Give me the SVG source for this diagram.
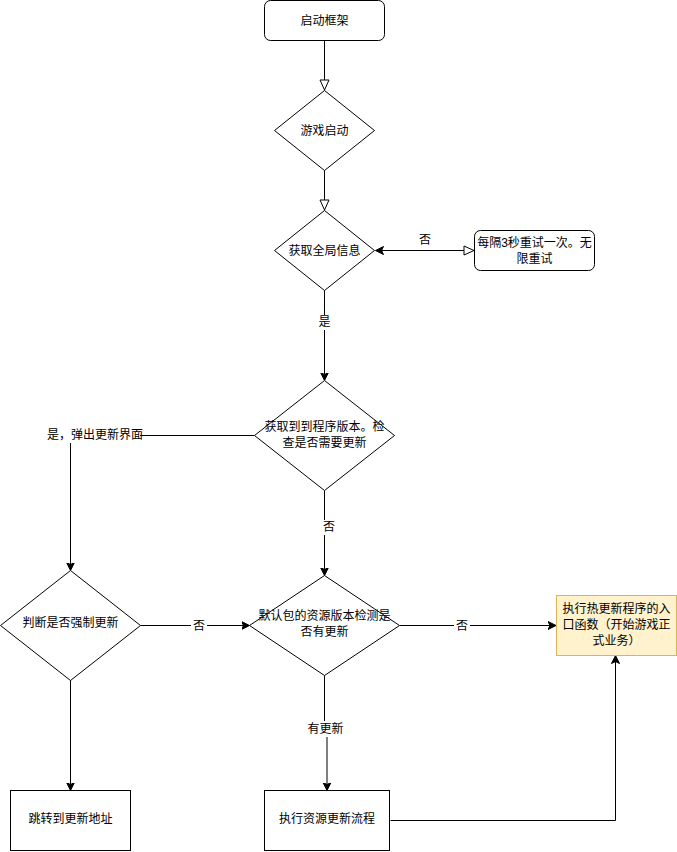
<svg xmlns="http://www.w3.org/2000/svg" width="677" height="852" viewBox="0 0 677 852">
<style>
text{font-family:"Liberation Sans","Noto Sans CJK SC",sans-serif;font-size:12px;fill:#000;text-anchor:middle;dominant-baseline:central}
.s{fill:#fff;stroke:#000;stroke-width:1}
.y{fill:#fff2cc;stroke:#d6b656;stroke-width:1}
.e{fill:none;stroke:#000;stroke-width:1}
.lb{fill:#fff;stroke:none}
</style>
<defs>
<marker id="a" markerUnits="userSpaceOnUse" markerWidth="10" markerHeight="10" refX="8" refY="4" orient="auto-start-reverse" viewBox="0 0 10 8">
<path d="M0,0 L8,4 L0,8 L2,4 Z" fill="#000" stroke="#000" stroke-width="1"/>
</marker>
<marker id="h" markerUnits="userSpaceOnUse" markerWidth="12" markerHeight="11" refX="10.5" refY="5" orient="auto" viewBox="-1 0 12 10">
<path d="M0,0.5 L10,5 L0,9.5 Z" fill="#fff" stroke="#000" stroke-width="1"/>
</marker>
</defs>
<g id="edges">
<path class="e" d="M324.5,40.5 V90.5" marker-end="url(#h)"/>
<path class="e" d="M324.5,170.5 V210.5" marker-end="url(#h)"/>
<path class="e" d="M375.5,250.5 H474.5" marker-start="url(#a)" marker-end="url(#h)"/>
<rect class="lb" x="417" y="233" width="16" height="15"/>
<text x="425" y="240">否</text>
<path class="e" d="M324.5,290.5 V380.5" marker-end="url(#a)"/>
<rect class="lb" x="316" y="315" width="16" height="15"/>
<text x="324.5" y="322">是</text>
<path class="e" d="M254.5,435.5 H70.5 V570.5" marker-end="url(#a)"/>
<rect class="lb" x="49" y="427" width="91" height="16"/>
<text x="95" y="435">是，弹出更新界面</text>
<path class="e" d="M324.5,490.5 V575.5" marker-end="url(#a)"/>
<rect class="lb" x="321" y="520" width="16" height="15"/>
<text x="329" y="527">否</text>
<path class="e" d="M140.5,625.5 H249.5" marker-end="url(#a)"/>
<rect class="lb" x="191" y="618" width="16" height="15"/>
<text x="199" y="626">否</text>
<path class="e" d="M399.5,625.5 H556" marker-end="url(#a)"/>
<rect class="lb" x="454" y="618" width="16" height="15"/>
<text x="462" y="626">否</text>
<path class="e" d="M70.5,679.5 V790.5" marker-end="url(#a)"/>
<path class="e" d="M324.5,675.5 V729 H327 V790.5" marker-end="url(#a)"/>
<rect class="lb" x="306" y="721" width="40" height="16"/>
<text x="325.5" y="729">有更新</text>
<path class="e" d="M390.5,820.5 H615.5 V655.5" marker-end="url(#a)"/>
</g>
<g id="n1"><rect class="s" x="264.5" y="0.5" width="120" height="40" rx="6"/><text x="324.5" y="20.5">启动框架</text></g>
<g id="n2"><path class="s" d="M324.5,90.5 L374.5,130.5 L324.5,170.5 L274.5,130.5 Z"/><text x="324.5" y="130.5">游戏启动</text></g>
<g id="n3"><path class="s" d="M324.5,210.5 L374.5,250.5 L324.5,290.5 L274.5,250.5 Z"/><text x="324.5" y="250.5">获取全局信息</text></g>
<g id="n4"><rect class="s" x="474.5" y="230.5" width="120" height="40" rx="6"/><text x="534.5" y="243">每隔3秒重试一次。无</text><text x="534.5" y="258.5">限重试</text></g>
<g id="n5"><path class="s" d="M324.5,380.5 L394.5,435.5 L324.5,490.5 L254.5,435.5 Z"/><text x="324.5" y="427">获取到到程序版本。检</text><text x="324.5" y="443">查是否需要更新</text></g>
<g id="n6"><path class="s" d="M70.5,570.5 L140.5,625.5 L70.5,680.5 L0.5,625.5 Z"/><text x="70.5" y="623">判断是否强制更新</text></g>
<g id="n7"><path class="s" d="M324.5,575.5 L399.5,625.5 L324.5,675.5 L249.5,625.5 Z"/><text x="324.5" y="616">默认包的资源版本检测是</text><text x="324.5" y="632">否有更新</text></g>
<g id="n8"><rect class="y" x="556.5" y="595.5" width="120" height="60"/><text x="616.5" y="609">执行热更新程序的入</text><text x="616.5" y="625">口函数（开始游戏正</text><text x="616.5" y="641">式业务）</text></g>
<g id="n9"><rect class="s" x="10.5" y="790.5" width="120" height="60"/><text x="70.5" y="819">跳转到更新地址</text></g>
<g id="n10"><rect class="s" x="264.5" y="790.5" width="125" height="60"/><text x="327" y="819">执行资源更新流程</text></g>
</svg>
